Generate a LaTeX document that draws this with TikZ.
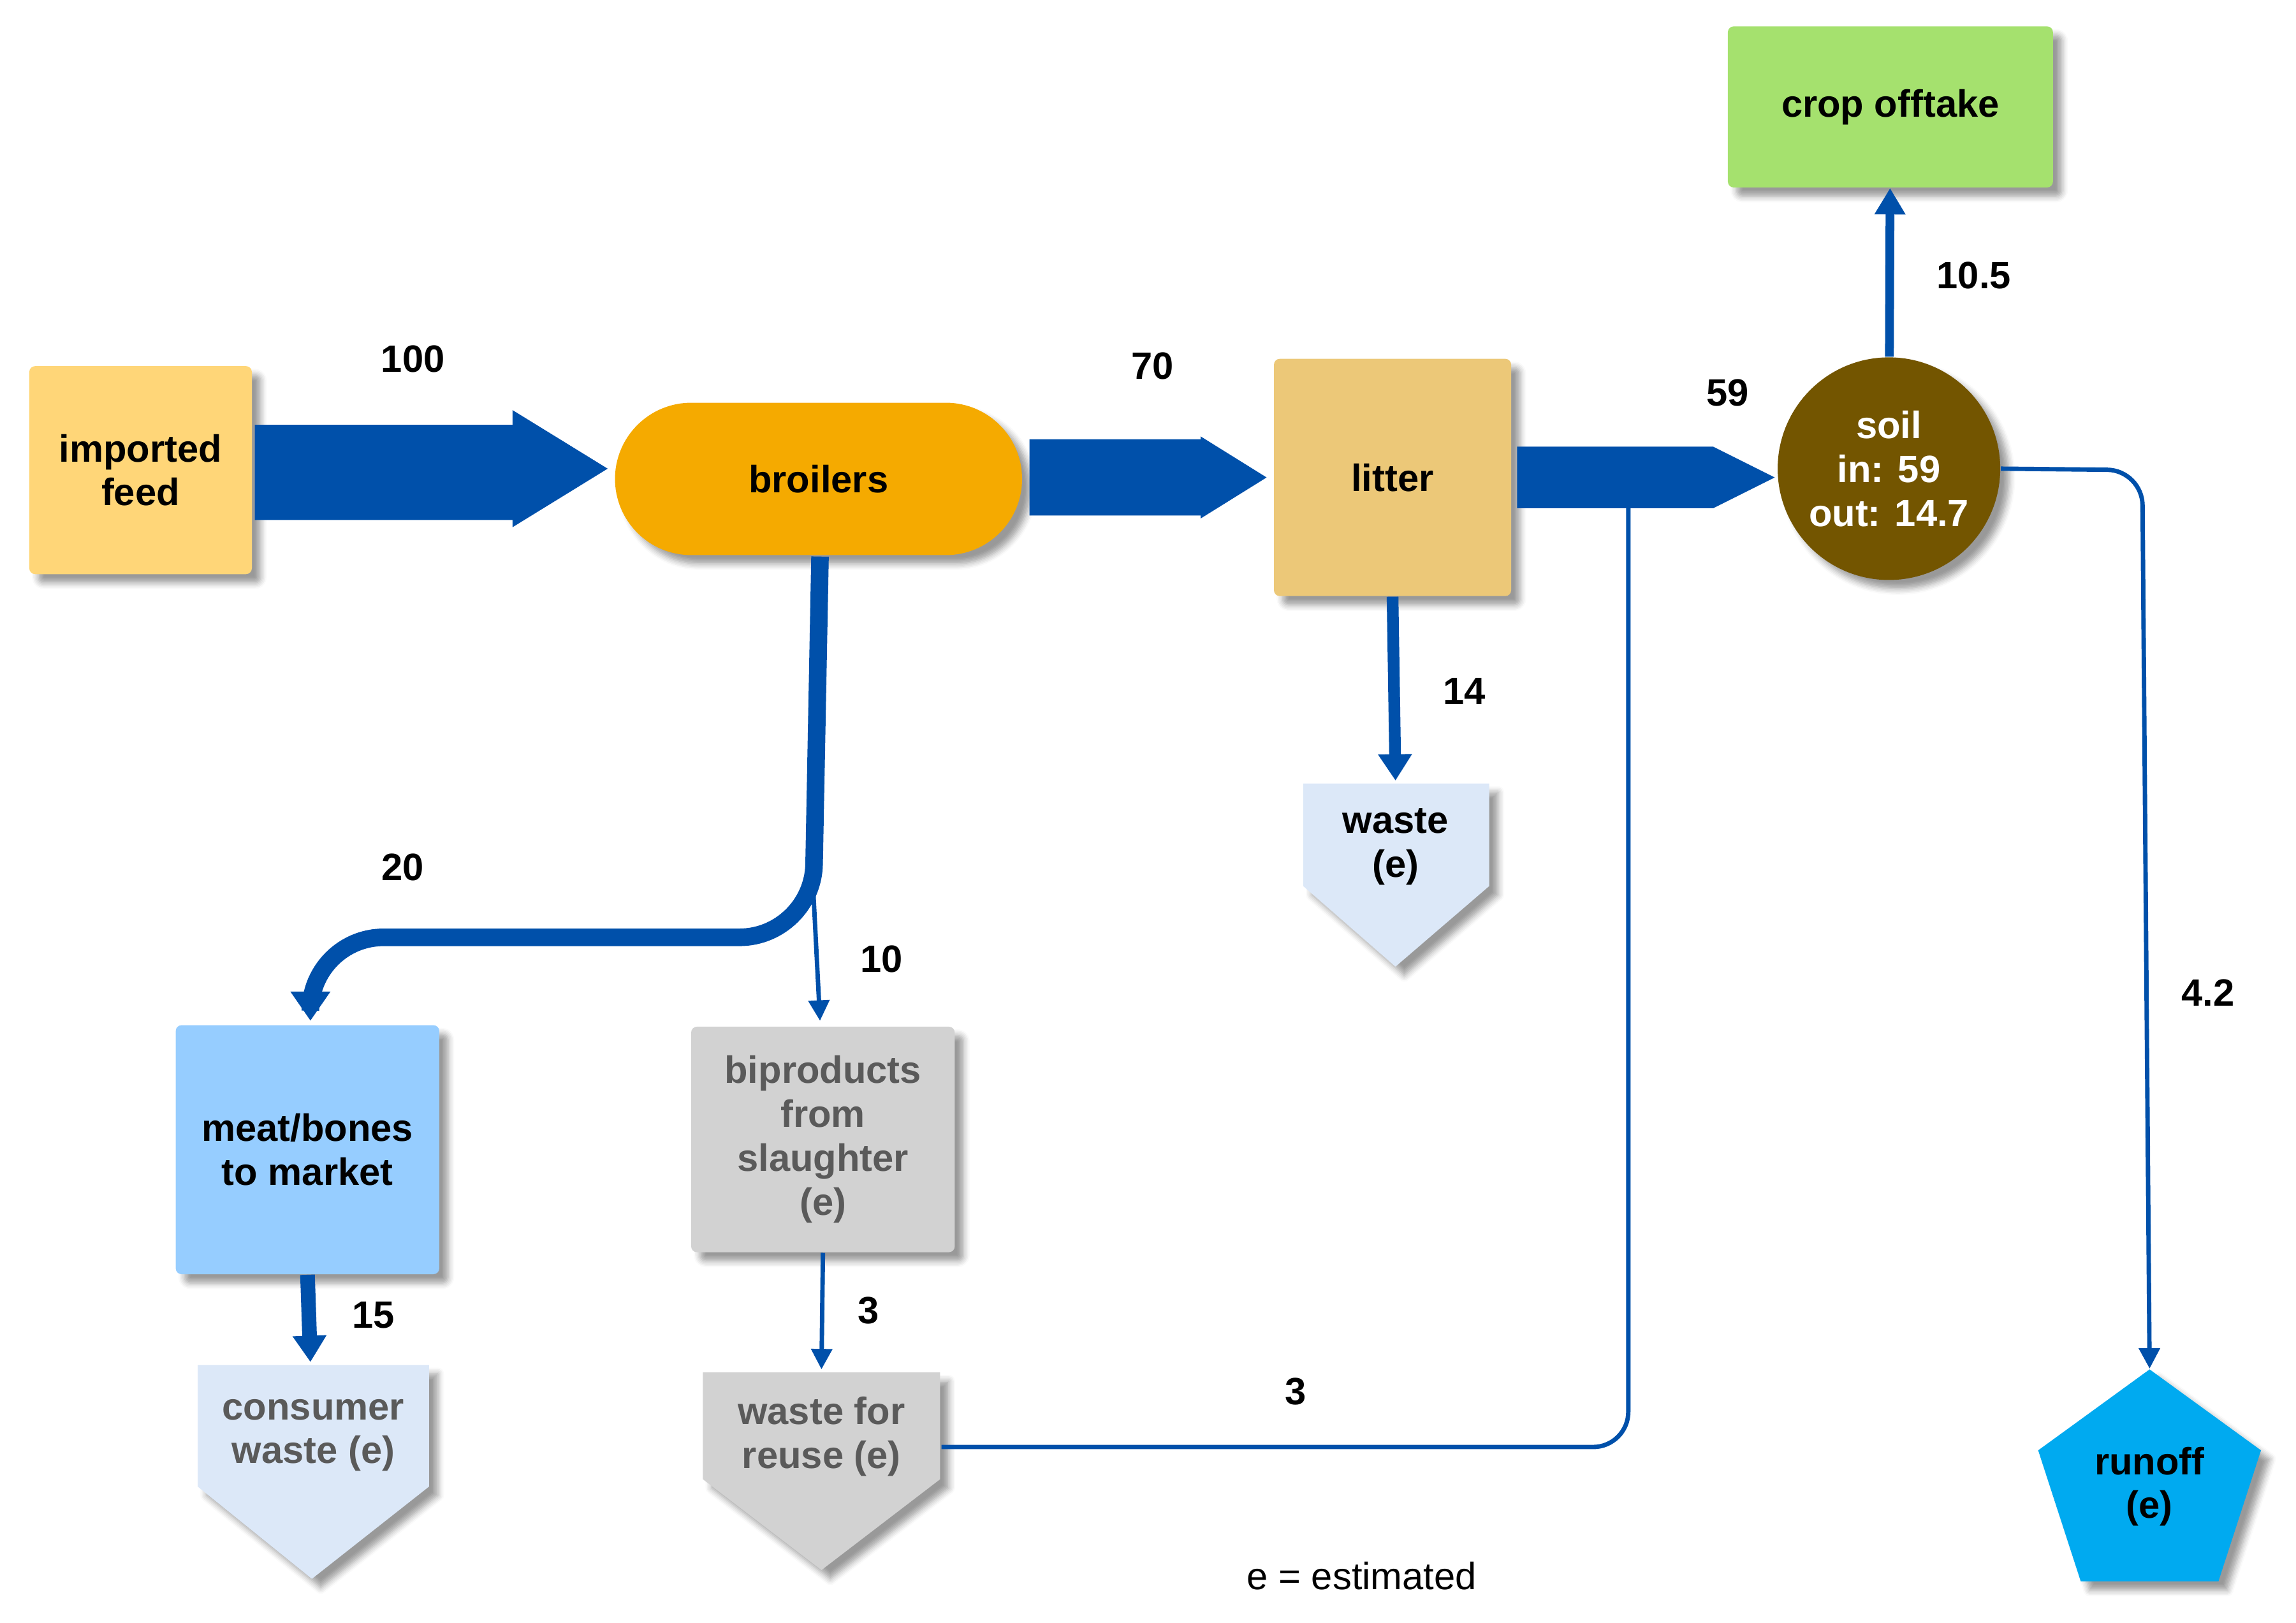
\documentclass[tikz,border=0pt]{standalone}
\usepackage{fontspec}
\setmainfont{Liberation Sans}
\usetikzlibrary{shadows.blur,shapes.geometric,arrows.meta}
\definecolor{flow}{RGB}{0,80,170}
\definecolor{feedc}{RGB}{255,214,120}
\definecolor{broc}{RGB}{245,170,0}
\definecolor{litc}{RGB}{236,200,120}
\definecolor{soilc}{RGB}{115,85,0}
\definecolor{cropc}{RGB}{165,225,110}
\definecolor{runc}{RGB}{0,170,240}
\definecolor{lbl}{RGB}{220,232,248}
\definecolor{meatc}{RGB}{150,205,255}
\definecolor{grayc}{RGB}{210,210,210}
\definecolor{graytxt}{RGB}{90,90,90}
\begin{document}
\begin{tikzpicture}[x=0.5pt,y=-0.5pt,
  txt/.style={font=\fontsize{13}{15}\selectfont\bfseries,align=center},
  num/.style={font=\fontsize{13}{15}\selectfont\bfseries},
  box/.style={txt,blur shadow={shadow blur steps=5,shadow xshift=3pt,shadow yshift=-3pt},draw=none},
  sh/.style={blur shadow={shadow blur steps=5,shadow xshift=3pt,shadow yshift=-3pt}},
  thin/.style={draw=flow,line width=1.5pt,-{Triangle[length=7pt,width=7pt]}}]
\useasboundingbox (0,0) rectangle (1568,1108);
% boxes
\node[box,fill=feedc,minimum width=76pt,minimum height=71pt,rounded corners=2pt] (feed) at (96,321) {imported\\feed};
\node[box,fill=broc,minimum width=139pt,minimum height=52pt,rounded corners=26pt] (bro) at (559,327) {broilers};
\node[box,fill=litc,minimum width=81pt,minimum height=81pt,rounded corners=2pt] (lit) at (951,326) {litter};
\node[box,fill=soilc,text=white,circle,minimum size=76pt,inner sep=0pt] (soil) at (1290,320) {soil\\in: 59\\out: 14.7};
\node[box,fill=cropc,minimum width=111pt,minimum height=55pt,rounded corners=2pt] (crop) at (1291,73) {crop offtake};
\node[box,fill=meatc,minimum width=90pt,minimum height=85pt,rounded corners=2pt] (meat) at (210,785) {meat/bones\\to market};
\node[box,fill=grayc,text=graytxt,minimum width=90pt,minimum height=77pt,rounded corners=2pt] (bip) at (562,778) {biproducts\\from\\slaughter\\(e)};
\node[box,fill=runc,regular polygon,regular polygon sides=5,minimum size=80pt,inner sep=0pt] (run) at (1468,1015) {runoff\\(e)};
% pentagon-arrow shapes
\fill[lbl,sh] (890,535)--(1017,535)--(1017,605)--(953,660)--(890,605)--cycle;
\node[txt] (waste) at (953,578) {waste\\(e)};
\fill[lbl,sh] (135,932)--(293,932)--(293,1015)--(213,1078)--(135,1015)--cycle;
\node[txt,text=graytxt] (cons) at (214,980) {consumer\\waste (e)};
\fill[grayc,sh] (480,937)--(642,937)--(642,1010)--(561,1072)--(480,1010)--cycle;
\node[txt,text=graytxt] (reuse) at (561,981) {waste for\\reuse (e)};
\coordinate (wtop) at (953,533);
\coordinate (ctop) at (212,930);
\coordinate (rtop) at (561,935);
\coordinate (rleft) at (643,988);
% big arrows
\fill[flow] (174,290)--(350,290)--(350,280)--(415,320)--(350,360)--(350,355)--(174,355)--cycle;
\fill[flow] (703,300)--(820,300)--(820,298)--(865,326)--(820,354)--(820,352)--(703,352)--cycle;
\fill[flow] (1036,305)--(1170,305)--(1212,326)--(1170,347)--(1036,347)--cycle;
% other flows
\draw[flow,line width=3pt,-{Triangle[length=9pt,width=10pt]}] (soil) -- (crop);
\draw[thin,rounded corners=12pt] (soil.east) -- (1463,321) -- (run.north);
\draw[flow,line width=4pt,-{Triangle[length=9pt,width=11pt]}] (lit.south) -- (wtop);
\draw[flow,line width=6pt,rounded corners=25pt,-{Triangle[length=10pt,width=13pt]}] (560,380) -- (555,640) -- (212,640) -- (212,697);
\draw[thin] (555,600) -- (560,697);
\draw[flow,line width=5pt,-{Triangle[length=9pt,width=11pt]}] (meat.south) -- (ctop);
\draw[thin] (bip.south) -- (rtop);
\draw[draw=flow,line width=1.5pt,rounded corners=12pt] (rleft) -- (1112,988) -- (1112,347);
% labels
\node[num] at (282,245) {100};
\node[num] at (787,250) {70};
\node[num] at (1180,268) {59};
\node[num] at (1348,188) {10.5};
\node[num] at (1508,678) {4.2};
\node[num] at (1000,472) {14};
\node[num] at (275,592) {20};
\node[num] at (602,655) {10};
\node[num,fill=white,inner sep=1pt] at (255,898) {15};
\node[num] at (593,895) {3};
\node[num] at (885,950) {3};
\node[font=\fontsize{13}{15}\selectfont] at (930,1076) {e = estimated};
\end{tikzpicture}
\end{document}
